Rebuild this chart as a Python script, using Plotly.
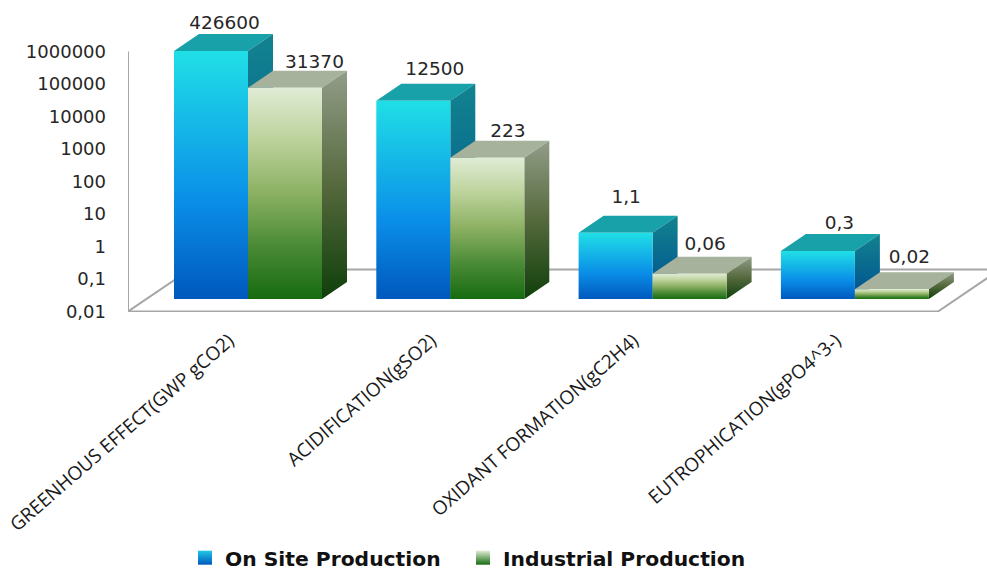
import plotly.graph_objects as go

categories = ["GREENHOUS EFFECT(GWP gCO2)", "ACIDIFICATION(gSO2)",
              "OXIDANT FORMATION(gC2H4)", "EUTROPHICATION(gPO4^3-)"]
on_site = [426600, 12500, 1.1, 0.3]
industrial = [31370, 223, 0.06, 0.02]
on_site_labels = ["426600", "12500", "1,1", "0,3"]
industrial_labels = ["31370", "223", "0,06", "0,02"]
tick_values = [0.01, 0.1, 1, 10, 100, 1000, 10000, 100000, 1000000]
tick_labels = ["0,01", "0,1", "1", "10", "100", "1000", "10000", "100000", "1000000"]

# hand placement of each value label relative to its bar top, in pixels (right, up)
on_site_nudge = [(1, 9.5), (9, 13), (-2, 17), (9, 10)]
industrial_nudge = [(17, 7), (8, 8), (3, 11), (5, 14)]

W, H = 987, 590       # a little taller than the window, so the legend box has room
LEGEND_Y_PX = 558
PX_X = 202.3          # pixels per category
PX_DEC = 32.5         # pixels per decade
X0_PX, Y0_PX = 248.0, 311.5   # pixel of category 0 / of value 0.01 on the axis
BAR_W = 74 / PX_X
DX = 25 / PX_X        # depth, in x units
DY = 17 / PX_DEC      # depth, in decades
LIFT = 12.5 / PX_DEC  # front plane sits above the axis floor edge
BASE = 0.01


def up(v, decades):
    return v * 10 ** decades


BLUE_FRONT = [[0, "#0058bd"], [0.4, "#0a8fe8"], [1, "#20dfe6"]]
BLUE_SIDE = [[0, "#004f8f"], [1, "#12838f"]]
BLUE_TOP = "#18a1a9"
GREEN_FRONT = [[0, "#166b10"], [0.25, "#4a8a36"], [0.5, "#8bb062"], [0.75, "#bcd29b"], [1, "#e0ecd5"]]
GREEN_SIDE = [[0, "#0f3f0a"], [0.5, "#55693d"], [1, "#929d88"]]
GREEN_TOP = "#a6b29b"

fig = go.Figure()


def poly(xs, ys, fill=None, grad=None):
    kw = dict(fillgradient=dict(type="vertical", colorscale=grad)) if grad else dict(fillcolor=fill)
    fig.add_trace(go.Scatter(x=xs, y=ys, mode="lines", fill="toself", line=dict(width=0),
                             hoverinfo="skip", showlegend=False, **kw))


def bar(x0, v, front, side, top):
    x1 = x0 + BAR_W
    yb, yt = up(BASE, LIFT), up(v, LIFT)
    poly([x0, x0 + DX, x1 + DX, x1, x0], [yt, up(yt, DY), up(yt, DY), yt, yt], fill=top)
    poly([x1, x1 + DX, x1 + DX, x1, x1], [yb, up(yb, DY), up(yt, DY), yt, yb], grad=side)
    poly([x0, x1, x1, x0, x0], [yb, yb, yt, yt, yb], grad=front)


# frame
y_floor_back = up(BASE, 42 / PX_DEC)
x_left = (128 - X0_PX) / PX_X
x_right = (938 - X0_PX) / PX_X
x_far = (1000 - X0_PX) / PX_X
x_back = (190 - X0_PX) / PX_X
fig.add_trace(go.Scatter(
    x=[x_left, x_left, x_back, x_far, None, x_left, x_right, x_far],
    y=[1000000, BASE, y_floor_back, y_floor_back, None, BASE, BASE, y_floor_back],
    mode="lines", line=dict(color="#a6a6a6", width=2), hoverinfo="skip", showlegend=False))

for i in range(len(categories)):
    bar(i - BAR_W, on_site[i], BLUE_FRONT, BLUE_SIDE, BLUE_TOP)
    bar(i, industrial[i], GREEN_FRONT, GREEN_SIDE, GREEN_TOP)

# value labels
lx, ly, lt = [], [], []
for i in range(len(categories)):
    for v, cx, text, (nx, ny) in (
        (on_site[i], i - BAR_W / 2, on_site_labels[i], on_site_nudge[i]),
        (industrial[i], i + BAR_W / 2, industrial_labels[i], industrial_nudge[i]),
    ):
        lx.append(cx + DX / 2 + nx / PX_X)
        ly.append(up(v, LIFT + DY + ny / PX_DEC))
        lt.append(text)
fig.add_trace(go.Scatter(x=lx, y=ly, text=lt, mode="text", textposition="middle center",
                         textfont=dict(family="DejaVu Sans", size=18.5, color="#262626"),
                         hoverinfo="skip", showlegend=False))

# legend
fig.add_trace(go.Scatter(x=[None], y=[None], mode="markers", name="On Site Production",
                         legend="legend",
                         marker=dict(symbol="square", size=14, color="#20c8e6",
                                     gradient=dict(type="vertical", color="#0058bd"))))
fig.add_trace(go.Scatter(x=[None], y=[None], mode="markers", name="Industrial Production",
                         legend="legend2",
                         marker=dict(symbol="square", size=14, color="#e0ecd5",
                                     gradient=dict(type="vertical", color="#166b10"))))

legend_style = dict(orientation="h", xref="container", xanchor="left",
                    y=(H - LEGEND_Y_PX) / H, yref="container", yanchor="middle",
                    font=dict(family="DejaVu Sans", size=20.3, color="#111111", weight="bold"),
                    itemsizing="trace")

fig.update_layout(
    width=W, height=H, autosize=False,
    margin=dict(l=128, r=0, t=0, b=H - 312, autoexpand=False),
    paper_bgcolor="white", plot_bgcolor="white",
    showlegend=True,
    legend=dict(x=185 / W, **legend_style),
    legend2=dict(x=463 / W, **legend_style),
    xaxis=dict(range=[x_left, (W - X0_PX) / PX_X], tickmode="array",
               tickvals=[i - 19 / PX_X for i in range(len(categories))], ticktext=categories,
               tickangle=-41, ticklabelstandoff=13, ticklabeloverflow="allow", showgrid=False,
               zeroline=False, showline=False, ticks="",
               tickfont=dict(family="Open Sans", size=19, color="#1a1a1a")),
    yaxis=dict(type="log", range=[-2 - (312 - 311.5) / PX_DEC, -2 + Y0_PX / PX_DEC],
               tickmode="array", tickvals=tick_values, ticktext=tick_labels,
               showgrid=False, zeroline=False, showline=False, ticks="",
               ticklabelstandoff=21,
               tickfont=dict(family="DejaVu Sans", size=18, color="#262626")),
)

fig.write_html("out.html", config={"displayModeBar": False},
               post_script="document.body.style.margin='0';document.body.style.overflow='hidden';")
